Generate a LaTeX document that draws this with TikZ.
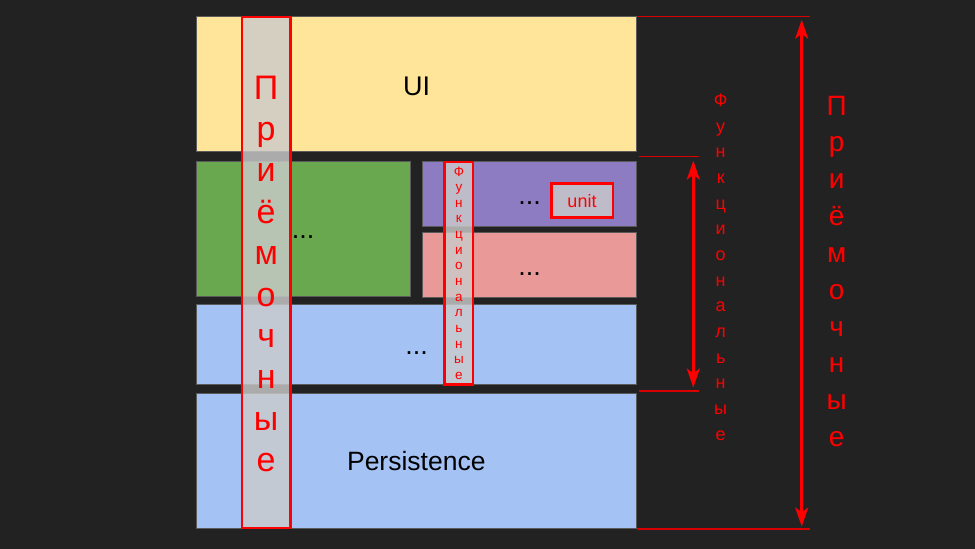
\documentclass[tikz,border=0pt]{standalone}
\usepackage{fontspec}
\setmainfont{Liberation Sans}
\usetikzlibrary{arrows.meta}
\definecolor{bg}{HTML}{222222}
\definecolor{edge}{HTML}{5A5A5A}
\definecolor{uiY}{HTML}{FFE599}
\definecolor{grn}{HTML}{6AA84F}
\definecolor{prp}{HTML}{8E7CC3}
\definecolor{pnk}{HTML}{EA9999}
\definecolor{blu}{HTML}{A4C2F4}
\definecolor{boxgray}{RGB}{203,203,203}
\definecolor{rd}{HTML}{FF0000}
\begin{document}
\begin{tikzpicture}[x=1pt,y=-1pt,
  layer/.style={draw=edge, line width=1pt},
  testbox/.style={draw=rd, line width=2.6pt, fill=boxgray, fill opacity=0.81},
  guide/.style={draw=rd!85!black, line width=1.5pt},
  dim/.style={draw=rd, line width=3pt, {Stealth[length=19pt,width=13pt,inset=5pt]}-{Stealth[length=19pt,width=13pt,inset=5pt]}},
  lbl/.style={anchor=base, inner sep=0pt, text=black},
  rlbl/.style={anchor=base, inner sep=0pt, text=rd}]
\fill[bg] (0,0) rectangle (975,549);
\useasboundingbox (0,0) rectangle (975,549);
% layers
\path[layer, fill=uiY] (196,16.7) rectangle (636.7,151.7);
\path[layer, fill=grn] (196,161.7) rectangle (410,296.5);
\path[layer, fill=prp] (422.3,161.7) rectangle (636.7,226.7);
\path[layer, fill=pnk] (422.3,232.7) rectangle (636.7,297.7);
\path[layer, fill=blu] (196,304) rectangle (636.7,384);
\path[layer, fill=blu] (196,393.3) rectangle (636.7,528.7);
% layer texts
\node[lbl, font=\fontsize{27}{30}\selectfont] (tui) at (416.7,95) {UI};
\node[lbl, font=\fontsize{26.5}{30}\selectfont] (tpers) at (416.3,470.7) {Persistence};
\node[lbl, font=\fontsize{27}{30}\selectfont] (dg) at (303,238.3) {...};
\node[lbl, font=\fontsize{27}{30}\selectfont] (dp) at (529.7,204.3) {...};
\node[lbl, font=\fontsize{27}{30}\selectfont] (dk) at (529.7,275.7) {...};
\node[lbl, font=\fontsize{27}{30}\selectfont] (db) at (416.7,354) {...};
% test boxes
\path[testbox] (242,17) rectangle (290.3,528);
\path[testbox] (444.7,162) rectangle (473,384.7);
\path[testbox] (551.2,183.5) rectangle (612.8,217.2);
\node[rlbl, font=\fontsize{18}{20}\selectfont] (tunit) at (582,207.3) {unit};
\foreach \c [count=\i from 0] in {П,р,и,ё,м,о,ч,н,ы,е}
  \node[rlbl, font=\fontsize{34}{36}\selectfont] (la\i) at (266.2,99+41.4*\i) {\c};
\foreach \c [count=\i from 0] in {Ф,у,н,к,ц,и,о,н,а,л,ь,н,ы,е}
  \node[rlbl, font=\fontsize{13.5}{15}\selectfont] (sa\i) at (458.9,176+15.64*\i) {\c};
% right dimension lines
\coordinate (t1) at (637,16.7);  \coordinate (t2) at (810,16.7);
\coordinate (b1) at (637,529);   \coordinate (b2) at (810,529);
\coordinate (m1) at (639,156.7); \coordinate (m2) at (699,156.7);
\coordinate (n1) at (639,391);   \coordinate (n2) at (699,391);
\draw[guide] (t1) -- (t2);
\draw[guide] (b1) -- (b2);
\draw[guide] (m1) -- (m2);
\draw[guide] (n1) -- (n2);
\coordinate (A1) at (801.7,16.7); \coordinate (A2) at (801.7,529);
\coordinate (B1) at (693.3,156.7); \coordinate (B2) at (693.3,391);
\draw[dim, shorten <=3pt, shorten >=2.5pt] (A1) -- (A2);
\draw[dim, shorten <=4pt, shorten >=3.5pt] (B1) -- (B2);
\foreach \c [count=\i from 0] in {Ф,у,н,к,ц,и,о,н,а,л,ь,н,ы,е}
  \node[rlbl, font=\fontsize{18}{20}\selectfont] (fa\i) at (720.7,106.7+25.64*\i) {\c};
\foreach \c [count=\i from 0] in {П,р,и,ё,м,о,ч,н,ы,е}
  \node[rlbl, font=\fontsize{28}{30}\selectfont] (pa\i) at (836.7,115+36.85*\i) {\c};
\end{tikzpicture}
\end{document}
